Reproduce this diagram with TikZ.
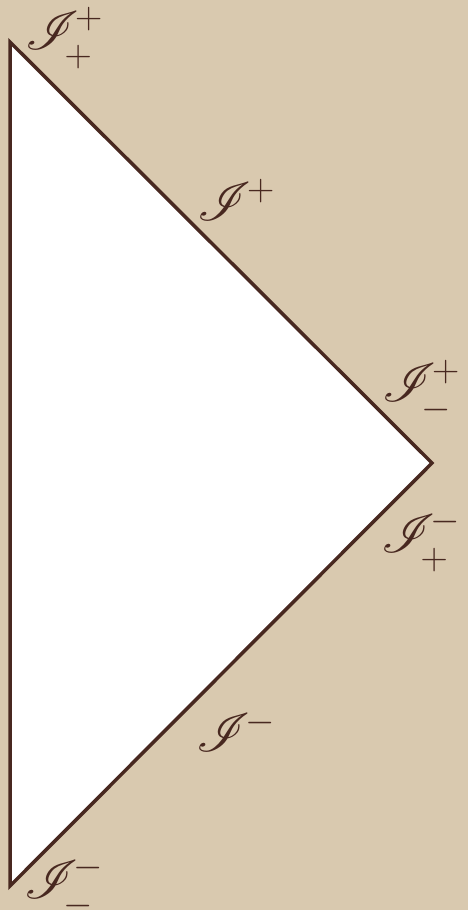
\documentclass[tikz,border=0pt]{standalone}
\usepackage{fix-cm}
\DeclareFontFamily{U}{rsfs}{\skewchar\font127}
\DeclareFontShape{U}{rsfs}{m}{n}{<-> rsfs10}{}
\usepackage{mathrsfs}
\definecolor{paper}{RGB}{217,201,175}
\definecolor{ink}{RGB}{72,40,32}
% scri with raised sup and lowered sub
\newcommand{\scri}[2]{\mathscr{I}^{\mkern-2mu\raisebox{1pt}{$\scriptstyle#1$}}_{\mkern-2mu\raisebox{-4pt}{$\scriptstyle#2$}}}
\tikzset{lbl/.style={text=ink,inner sep=0pt,font=\fontsize{54}{62}\selectfont}}
\begin{document}
\begin{tikzpicture}[x=1pt,y=-1pt]
\fill[paper] (0,0) rectangle (468,910);
\useasboundingbox (0,0) rectangle (468,910);
\coordinate (top) at (10,42); \coordinate (tip) at (432,463); \coordinate (bot) at (10,886);
\draw[ink,line width=3.5pt,line join=miter,fill=white] (top) -- (tip) -- (bot) -- cycle;
\node[lbl] (ipp) at (64,38) {$\scri{+}{+}$};
\node[lbl] (ip) at (236,200) {$\mathscr{I}^{\mkern-2mu+}$};
\node[lbl] (ipm) at (421,391) {$\scri{+}{-}$};
\node[lbl] (imp) at (421,541) {$\scri{-}{+}$};
\node[lbl] (im) at (236,731) {$\mathscr{I}^{\mkern-2mu-}$};
\node[lbl] (imm) at (64,887) {$\scri{-}{-}$};
\end{tikzpicture}
\end{document}
